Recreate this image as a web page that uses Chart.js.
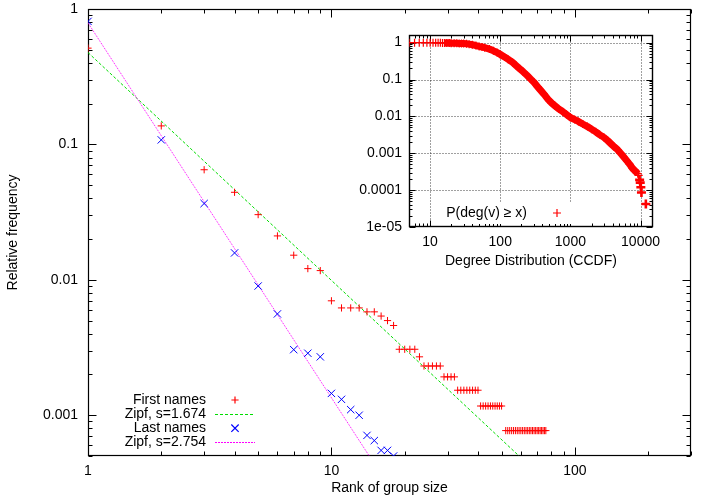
<!DOCTYPE html>
<html><head><meta charset="utf-8">
<script src="https://cdn.jsdelivr.net/npm/chart.js@4.4.1/dist/chart.umd.min.js"></script>
<style>
html,body{margin:0;padding:0;background:#fff;}
#wrap{position:relative;width:702px;height:499px;overflow:hidden;}
#main{position:absolute;left:0;top:0;}
#inset{position:absolute;left:350px;top:28px;}
</style></head><body>
<div id="wrap">
<canvas id="main" width="702" height="499"></canvas>
<canvas id="inset" width="310" height="250"></canvas>
</div>
<script>
// ---------------- data ----------------
const firstRank = [1,2,3,4,5,6,7,8,9,10,11,12,13,14,15,16,17,18,
  19,20,21,22,23,24,25,26,27,28,29,30,31,32,
  33,34,35,36,37,38,39,40,41,42,43,44,45,46,47,48,49,50,
  52,53,54,55,56,57,58,59,60,61,62,63,64,65,66,67,68,69,70,71,72,73,74,75,76];
const firstFreq = [0.514,0.137,0.065,0.0443,0.0303,0.0211,0.0152,0.0121,0.0117,0.0070,0.0062,0.0062,0.0062,0.0058,0.0058,0.0054,0.0050,0.0046,
  0.00307,0.00307,0.00307,0.00307,0.0027,0.00231,0.00231,0.00231,0.00231,0.00231,0.00192,0.00192,0.00192,0.00192,
  0.00153,0.00153,0.00153,0.00153,0.00153,0.00153,0.00153,0.00153,0.00117,0.00117,0.00117,0.00117,0.00117,0.00117,0.00117,0.00117,0.00117,0.00117,
  0.00077,0.00077,0.00077,0.00077,0.00077,0.00077,0.00077,0.00077,0.00077,0.00077,0.00077,0.00077,0.00077,0.00077,0.00077,0.00077,0.00077,0.00077,0.00077,0.00077,0.00077,0.00077,0.00077,0.00077,0.00077];
const lastRank = [1,2,3,4,5,6,7,8,9,10,11,12,13,14,15,16,17,18];
const lastFreq = [0.81,0.108,0.0366,0.0158,0.0090,0.0056,0.00305,0.00287,0.0027,0.00145,0.00131,0.0011,0.0010,0.00071,0.00065,0.00055,0.00055,0.0005];
const zipfFirstX = [1, 59];
const zipfFirstY = [0.477, 0.0005];
const zipfLastX = [1, 14.3];
const zipfLastY = [0.79, 0.0005];
const seriesLabels = ['First names','Zipf, s=1.674','Last names','Zipf, s=2.754'];
const mainXTickValues = [1,10,100];
const mainXTickLabels = ['1','10','100'];
const mainYTickValues = [1,0.1,0.01,0.001];
const mainYTickLabels = ['1','0.1','0.01','0.001'];
const mainXTitle = 'Rank of group size';
const mainYTitle = 'Relative frequency';

const ccdfDegree = [5,6,7,8,9,10,11,12,13,14,15,16,17,18,19,20,22,24,26,28,30,33,36,40,45,50,55,60,70,80,90,100,
  115,130,150,170,190,210,240,270,300,340,380,420,480,540,600,680,780,880,1000,1150,1300,1500,1750,2000,2300,2600,
  3000,3400,3800,4200,4700,5200,5800,6400,7000,7600,8200,8700,9100,9400,9700,9900,10100,10300,11900];
const ccdfValue = [1.0,1.0,0.998,0.997,0.995,0.993,0.991,0.989,0.987,0.985,0.982,0.98,0.977,0.974,0.971,0.968,0.962,0.956,0.95,0.945,0.94,0.93,0.91,0.88,0.83,0.79,0.76,0.73,0.67,0.6,0.54,0.48,
  0.41,0.35,0.29,0.235,0.195,0.165,0.13,0.104,0.085,0.064,0.05,0.04,0.029,0.023,0.0195,0.016,0.0134,0.0112,0.0093,0.0082,0.0073,0.0062,0.0053,0.0045,0.0038,0.0032,
  0.0027,0.0022,0.0018,0.0015,0.00125,0.001,0.00078,0.00062,0.0005,0.0004,0.00034,0.00031,0.00028,0.00025,0.00019,0.00016,0.00012,0.000086,0.000042];
const ccdfLabel = 'P(deg(v) \u2265 x)';
const insetXTickValues = [10,100,1000,10000];
const insetXTickLabels = ['10','100','1000','10000'];
const insetYTickValues = [1,0.1,0.01,0.001,0.0001,0.00001];
const insetYTickLabels = ['1','0.1','0.01','0.001','0.0001','1e-05'];
const insetXTitle = 'Degree Distribution (CCDF)';

// ---------------- helpers ----------------
const FONT = "'Liberation Sans', Arial, sans-serif";
Chart.defaults.font.family = FONT;
Chart.defaults.font.size = 14;
Chart.defaults.color = '#000';

function logMarks(min, max) {
  const out = [];
  const e0 = Math.floor(Math.log10(min)) , e1 = Math.ceil(Math.log10(max));
  for (let e = e0; e <= e1; e++) {
    for (let m = 1; m <= 9; m++) {
      const v = parseFloat((m * Math.pow(10, e)).toPrecision(6));
      if (v >= min * 0.99999 && v <= max * 1.00001) out.push({v, major: m === 1});
    }
  }
  return out;
}

function drawMarker(ctx, style, x, y, r, color, lw) {
  ctx.save();
  ctx.strokeStyle = color; ctx.lineWidth = lw || 1;
  ctx.beginPath();
  if (style === 'cross') {
    ctx.moveTo(x - r, y); ctx.lineTo(x + r, y);
    ctx.moveTo(x, y - r); ctx.lineTo(x, y + r);
  } else {
    const d = r * Math.SQRT1_2;
    ctx.moveTo(x - d, y - d); ctx.lineTo(x + d, y + d);
    ctx.moveTo(x - d, y + d); ctx.lineTo(x + d, y - d);
  }
  ctx.stroke();
  ctx.restore();
}

const gnuFrame = {
  id: 'gnuFrame',
  beforeDatasetsDraw(chart, args, o) {
    const {ctx, chartArea: a} = chart;
    const xs = chart.scales.x, ys = chart.scales.y;
    const L = Math.round(a.left) + 0.5, R = Math.round(a.right) - 0.5;
    const T = Math.round(a.top) + 0.5, B = Math.round(a.bottom) - 0.5;
    ctx.save();
    if (o.grid) {
      ctx.strokeStyle = 'rgba(0,0,0,0.75)';
      ctx.lineWidth = 1;
      ctx.setLineDash([1, 2]);
      ctx.beginPath();
      o.gridX.forEach(v => {
        const p = Math.round(xs.getPixelForValue(v)) + 0.5;
        if (p > L + 1 && p < R - 1) { ctx.moveTo(p, T); ctx.lineTo(p, B); }
      });
      o.gridY.forEach(v => {
        const p = Math.round(ys.getPixelForValue(v)) + 0.5;
        if (p > T + 1 && p < B - 1) { ctx.moveTo(L, p); ctx.lineTo(R, p); }
      });
      ctx.stroke();
      ctx.setLineDash([]);
    }
    ctx.strokeStyle = '#000';
    ctx.lineWidth = 1;
    ctx.beginPath();
    logMarks(xs.min, xs.max).forEach(t => {
      const p = Math.round(xs.getPixelForValue(t.v)) + 0.5;
      const len = t.major ? o.major : o.minor;
      ctx.moveTo(p, B); ctx.lineTo(p, B - len);
      ctx.moveTo(p, T); ctx.lineTo(p, T + len);
    });
    logMarks(ys.min, ys.max).forEach(t => {
      const p = Math.round(ys.getPixelForValue(t.v)) + 0.5;
      const len = t.major ? o.major : o.minor;
      ctx.moveTo(L, p); ctx.lineTo(L + len, p);
      ctx.moveTo(R, p); ctx.lineTo(R - len, p);
    });
    ctx.stroke();
    ctx.lineWidth = o.frameWidth || 1.2;
    ctx.strokeRect(L, T, R - L, B - T);
    ctx.restore();
  },
  afterDatasetsDraw(chart, args, o) {
    const lg = o.legend;
    if (!lg) return;
    const ctx = chart.ctx;
    ctx.save();
    if (lg.box) {
      ctx.fillStyle = '#fff';
      ctx.fillRect(lg.box[0], lg.box[1], lg.box[2], lg.box[3]);
    }
    ctx.font = '14px ' + FONT;
    ctx.fillStyle = '#000';
    ctx.textAlign = 'right';
    ctx.textBaseline = 'middle';
    chart.data.datasets.forEach((ds, i) => {
      const y = lg.y0 + i * lg.dy;
      ctx.fillText(ds.label, lg.textRight, y);
      if (ds.legendType === 'line') {
        ctx.save();
        ctx.strokeStyle = ds.borderColor;
        ctx.lineWidth = ds.legendLineWidth || ds.borderWidth || 1;
        ctx.setLineDash(ds.legendDash || ds.borderDash || []);
        ctx.beginPath();
        ctx.moveTo(lg.lineFrom, Math.round(y) + 0.5);
        ctx.lineTo(lg.lineTo, Math.round(y) + 0.5);
        ctx.stroke();
        ctx.restore();
      } else {
        drawMarker(ctx, ds.pointStyle, lg.sampleX, y, ds.legendRadius, ds.legendColor, 1.2);
      }
    });
    ctx.restore();
  }
};

function pts(xs, ys) { return xs.map((x, i) => ({x, y: ys[i]})); }

function logAxis(pos, min, max, tickValues, tickLabels, size, padding, title, titlePad) {
  return {
    type: 'logarithmic', position: pos, min, max,
    grid: {display: false, drawTicks: false},
    border: {display: false},
    afterBuildTicks: (s) => { s.ticks = tickValues.map(v => ({value: v, major: true})); },
    afterFit: (s) => {
      if (pos === 'left') s.width = size; else s.height = size;
      s.paddingTop = 0; s.paddingBottom = 0; s.paddingLeft = 0; s.paddingRight = 0;
    },
    ticks: {
      autoSkip: false, maxRotation: 0, minRotation: 0, padding,
      font: {size: 14},
      callback: (v) => { const k = tickValues.indexOf(v); return k >= 0 ? tickLabels[k] : ''; }
    },
    title: title ? {display: true, text: title, font: {size: 14}, padding: titlePad} : {display: false}
  };
}

// ---------------- main chart ----------------
new Chart(document.getElementById('main'), {
  type: 'scatter',
  data: {
    datasets: [
      {label: seriesLabels[0], data: pts(firstRank, firstFreq), pointStyle: 'cross', pointRadius: 3.6,
       borderColor: '#ff0000', pointBorderColor: '#ff0000', pointBorderWidth: 1, showLine: false, order: 1,
       legendType: 'marker', legendRadius: 3.6, legendColor: '#ff0000'},
      {label: seriesLabels[1], data: pts(zipfFirstX, zipfFirstY), showLine: true, pointRadius: 0,
       borderColor: '#00dd00', borderWidth: 1, borderDash: [3, 2], order: 3, legendType: 'line'},
      {label: seriesLabels[2], data: pts(lastRank, lastFreq), pointStyle: 'crossRot', pointRadius: 5.2,
       borderColor: '#0000ff', pointBorderColor: '#0000ff', pointBorderWidth: 1, showLine: false, order: 0,
       legendType: 'marker', legendRadius: 5.2, legendColor: '#0000ff'},
      {label: seriesLabels[3], data: pts(zipfLastX, zipfLastY), showLine: true, pointRadius: 0,
       borderColor: '#ff00ff', borderWidth: 1, borderDash: [1, 1], legendDash: [2, 1], legendLineWidth: 1, order: 2, legendType: 'line'}
    ]
  },
  options: {
    responsive: false, animation: false, devicePixelRatio: 1,
    layout: {padding: {top: 9, right: 11, left: 0, bottom: 0}},
    scales: {
      x: logAxis('bottom', 1, 300, mainXTickValues, mainXTickLabels, 43, 7, mainXTitle, {top: 0, bottom: 2}),
      y: logAxis('left', 0.0005, 1, mainYTickValues, mainYTickLabels, 88, 10, mainYTitle, {top: 5, bottom: 0})
    },
    plugins: {
      legend: {display: false}, tooltip: {enabled: false},
      gnuFrame: {major: 8, minor: 4, frameWidth: 1.2,
        legend: {textRight: 206, sampleX: 235, y0: 400, dy: 14.1, lineFrom: 215, lineTo: 255}}
    }
  },
  plugins: [gnuFrame]
});

// ---------------- inset chart ----------------
const RED = '#ff0000';
new Chart(document.getElementById('inset'), {
  type: 'scatter',
  data: {
    datasets: [
      {label: ccdfLabel, data: pts(ccdfDegree, ccdfValue), pointStyle: 'cross',
       borderColor: RED, pointBorderColor: RED, showLine: true, borderWidth: 7,
       borderJoinStyle: 'round', borderCapStyle: 'butt',
       pointBorderWidth: (c) => (c.raw && c.raw.x > 9500 ? 2.6 : 1.2),
       pointRadius: (c) => (c.raw && c.raw.x > 9500 ? 4.5 : 4),
       segment: {borderColor: (c) => ((c.p0.parsed.x < 16 || c.p0.parsed.x >= 9100) ? 'rgba(0,0,0,0)' : RED)},
       legendType: 'marker', legendRadius: 4, legendColor: RED}
    ]
  },
  options: {
    responsive: false, animation: false, devicePixelRatio: 1,
    layout: {padding: {top: 6, right: 6, left: 0, bottom: 0}},
    scales: {
      x: logAxis('bottom', 5, 15000, insetXTickValues, insetXTickLabels, 51, 7, insetXTitle, {top: 0, bottom: 8}),
      y: logAxis('left', 0.00001, 1.6, insetYTickValues, insetYTickLabels, 59, 7, null, null)
    },
    plugins: {
      legend: {display: false}, tooltip: {enabled: false},
      gnuFrame: {major: 6, minor: 3, grid: true, frameWidth: 1.4, gridX: insetXTickValues, gridY: insetYTickValues,
        legend: {textRight: 177, sampleX: 207, y0: 185, dy: 14, box: [86, 175, 141, 21]}}
    }
  },
  plugins: [gnuFrame]
});
</script>
</body></html>
